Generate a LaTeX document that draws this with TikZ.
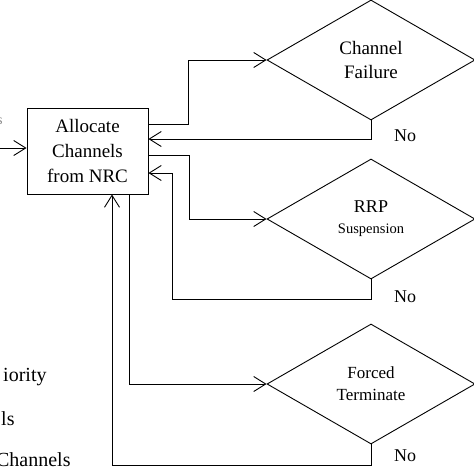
\documentclass[tikz,border=0pt]{standalone}
\usepackage{fontspec}
\setmainfont{Liberation Serif}
\usetikzlibrary{shapes.geometric,arrows.meta}

\begin{document}
\begin{tikzpicture}
            [x=1pt,y=-1pt,line width=0.9pt,
            blk/.style={draw,rectangle,minimum width=121pt,minimum height=86pt,inner sep=0pt,align=center,font=\fontsize{19}{25}\selectfont},
            dec/.style={draw,diamond,minimum width=208pt,minimum height=120pt,inner sep=0pt,align=center},
            lab/.style={inner sep=0pt,font=\fontsize{18}{20}\selectfont},
            side/.style={anchor=east,inner sep=0pt,font=\fontsize{20}{20}\selectfont},
            arr/.style={-{Straight Barb[length=12pt,width=15pt]}}]
            \useasboundingbox (0,0) rectangle (474,474);
            \node[blk](alloc) at (87.5,151) {Allocate\\Channels\\from NRC};
            \node[dec,font=\fontsize{19}{24}\selectfont](fail) at (371,60) {Channel\\Failure};
            \node[dec,font=\fontsize{18}{21}\selectfont](susp) at (371,219) {RRP\\{\fontsize{14.5}{21}\selectfont Suspension}};
            \node[dec,font=\fontsize{17}{22}\selectfont](term) at (371,384) {Forced\\Terminate};
            \node[lab](no1) at ([shift={(34,15)}]fail.south) {No};
            \node[lab](no2) at ([shift={(34,17)}]susp.south) {No};
            \node[lab](no3) at ([shift={(34,11)}]term.south) {No};
            \node[side,font=\fontsize{14}{14}\selectfont,text=black!50](cut0) at (3,121) {s};
            \node[side](cut1) at (47,377) {iority};
            \node[side](cut2) at (15,419) {ls};
            \node[side](cut3) at (71,460) {Channels};
            \coordinate (in) at (0,148);
            \draw[arr] (in) -- (in -| alloc.west);
            \draw[arr] ([yshift=27pt]alloc.east) -- ++(40,0) |- (fail.west);
            \draw[arr] (fail.south) |- ([yshift=12pt]alloc.east);
            \draw[arr] ([yshift=-4pt]alloc.east) -- ++(41,0) |- (susp.west);
            \draw[arr] (susp.south) -- ++(0,20) -| ([xshift=24pt,yshift=-22pt]alloc.east) -- ([yshift=-22pt]alloc.east);
            \draw[arr] ([xshift=41.5pt]alloc.south) |- (term.west);
            \draw[arr] (term.south) -- ++(0,21) -| ([xshift=24.5pt]alloc.south);
        \end{tikzpicture}
\end{document}
